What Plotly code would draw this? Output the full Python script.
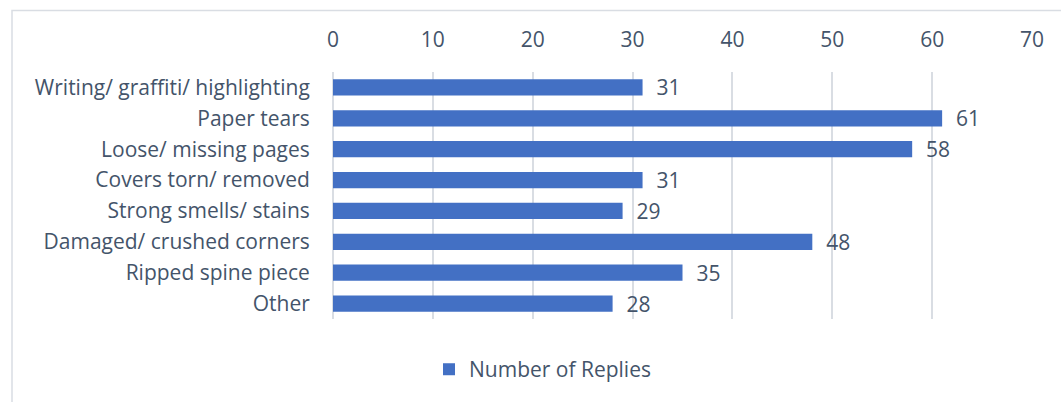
import plotly.graph_objects as go

categories = [
    "Writing/ graffiti/ highlighting",
    "Paper tears",
    "Loose/ missing pages",
    "Covers torn/ removed",
    "Strong smells/ stains",
    "Damaged/ crushed corners",
    "Ripped spine piece",
    "Other",
]
values = [31, 61, 58, 31, 29, 48, 35, 28]
series_name = "Number of Replies"
x_ticks = [0, 10, 20, 30, 40, 50, 60, 70]

W, H = 1061, 402
L, R, T, B = 333, 29, 72, 81
TXT = "#44546A"
FONT = "Open Sans"
FS = 21
GRID = "#D9DDE3"
PW, PH = W - L - R, H - T - B

fig = go.Figure()
fig.add_trace(go.Bar(
    y=categories,
    x=values,
    orientation="h",
    name=series_name,
    marker=dict(color="#4370C4", line=dict(width=0)),
    text=["  " + str(v) for v in values],
    textposition="outside",
    constraintext="none",
    textfont=dict(family=FONT, size=FS, color=TXT),
    cliponaxis=False,
    showlegend=True,
))

fig.update_layout(
    width=W, height=H,
    margin=dict(l=L, r=R, t=T, b=B),
    paper_bgcolor="white",
    plot_bgcolor="white",
    bargap=0.47,
    font=dict(family=FONT, size=FS, color=TXT),
    legend=dict(
        orientation="h",
        x=(429 - L) / PW,
        xanchor="left",
        y=(H - B - 372) / PH,
        yanchor="middle",
        font=dict(family=FONT, size=FS, color=TXT),
        itemwidth=30,
    ),
    xaxis=dict(
        side="top",
        range=[0, 70],
        tickvals=x_ticks,
        ticktext=[str(t) for t in x_ticks],
        showgrid=True,
        gridcolor=GRID,
        gridwidth=1.5,
        zeroline=True,
        zerolinecolor=GRID,
        zerolinewidth=1.5,
        showline=False,
        ticks="outside",
        ticklen=16,
        tickcolor="rgba(0,0,0,0)",
        tickfont=dict(family=FONT, size=FS, color=TXT),
        fixedrange=True,
    ),
    yaxis=dict(
        categoryorder="array",
        categoryarray=categories,
        autorange="reversed",
        showgrid=False,
        zeroline=False,
        showline=False,
        ticks="outside",
        ticklen=18,
        tickcolor="rgba(0,0,0,0)",
        tickfont=dict(family=FONT, size=FS, color=TXT),
    ),
    shapes=[dict(
        type="rect", xref="paper", yref="paper",
        x0=(12 - L) / PW, x1=1.2,
        y0=-0.6, y1=(H - B - 10) / PH,
        line=dict(color="#D9DDE3", width=1.5),
        fillcolor="rgba(0,0,0,0)",
        layer="below",
    )],
)

fig.write_html("out.html")
